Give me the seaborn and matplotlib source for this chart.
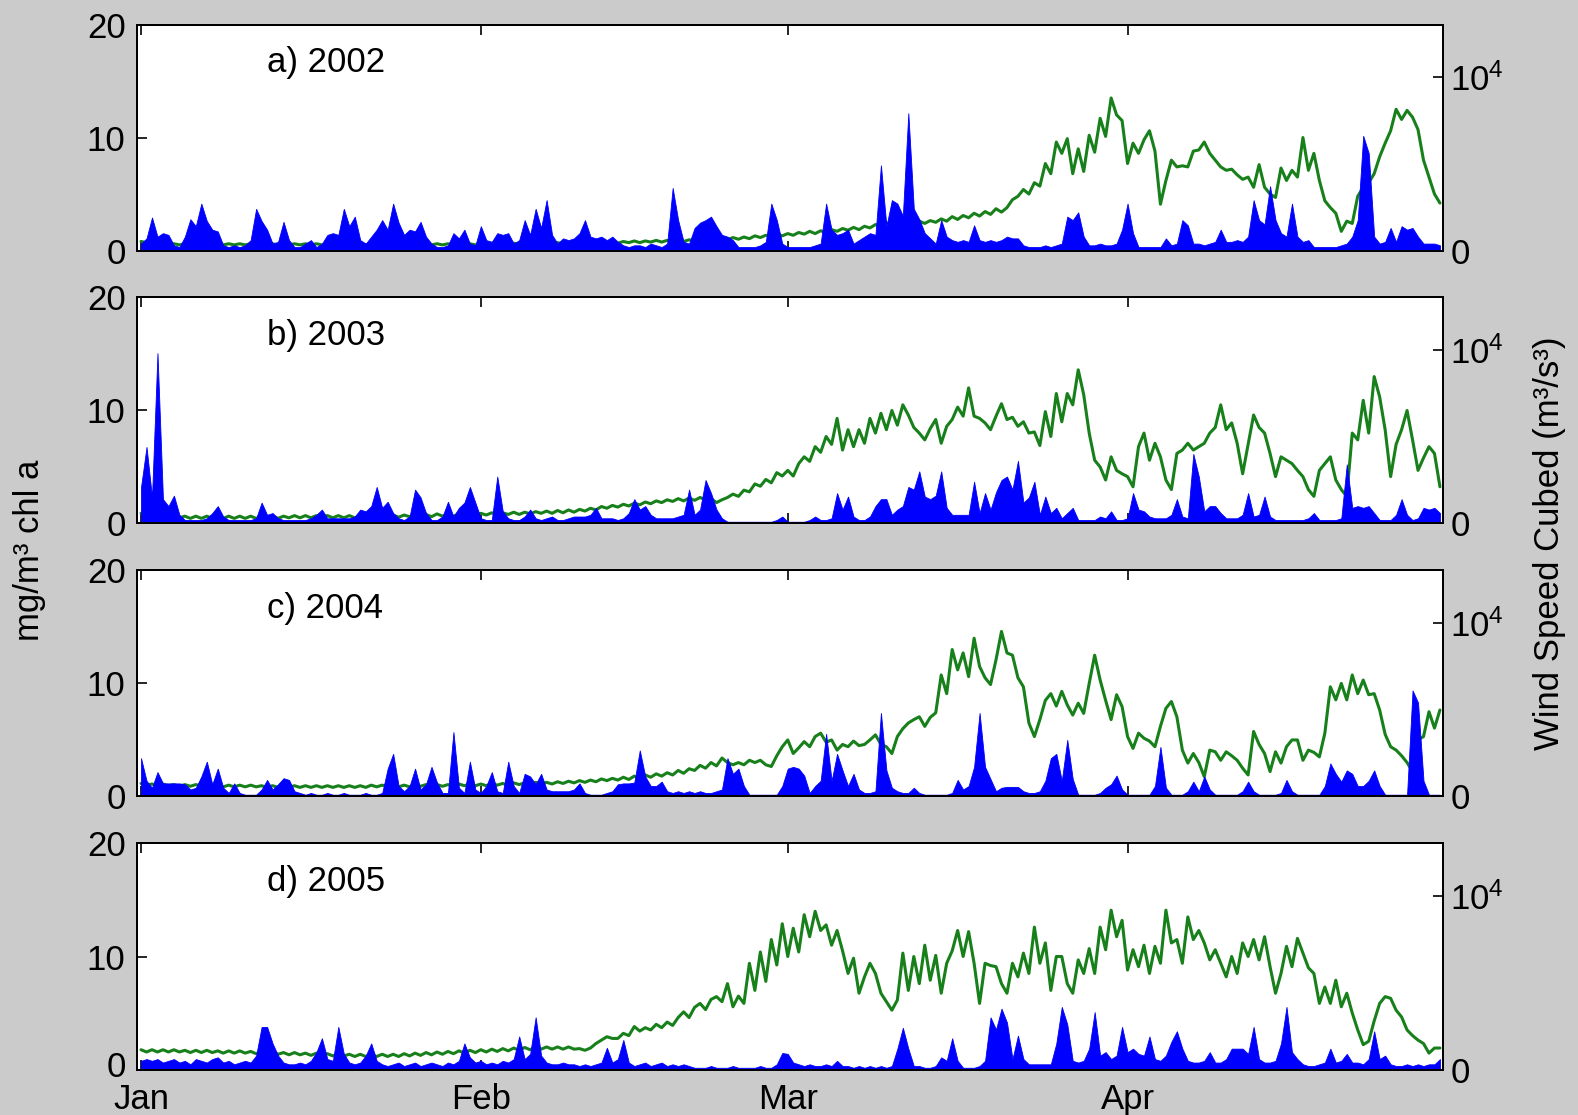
import matplotlib
matplotlib.use("Agg")
import matplotlib.pyplot as plt
import matplotlib.transforms as mtransforms
import numpy as np
import pandas as pd
import seaborn as sns

# half-day samples counted from 1 January
days = np.arange(0, 119, 0.5)
month_days = [0, 31, 59, 90]
month_labels = ["Jan", "Feb", "Mar", "Apr"]
panel_tags = ["a)", "b)", "c)", "d)"]
years = ["2002", "2003", "2004", "2005"]

# chlorophyll (mg/m^3)
chl_2002 = [
    0.8, 0.7, 0.7, 0.6, 0.65, 0.55, 0.6, 0.5, 0.6, 0.5, 0.6, 0.5, 0.6, 0.5, 0.6, 0.5, 0.6, 0.5, 0.6, 0.5,
    0.6, 0.5, 0.6, 0.5, 0.6, 0.5, 0.6, 0.5, 0.6, 0.5, 0.6, 0.5, 0.6, 0.5, 0.6, 0.5, 0.6, 0.5, 0.6, 0.5,
    0.6, 0.5, 0.6, 0.5, 0.6, 0.5, 0.6, 0.5, 0.6, 0.5, 0.6, 0.5, 0.6, 0.5, 0.6, 0.5, 0.6, 0.5, 0.6, 0.5,
    0.6, 0.5, 0.6, 0.5, 0.65, 0.55, 0.65, 0.55, 0.65, 0.55, 0.65, 0.55, 0.65, 0.55, 0.7, 0.6, 0.7, 0.6, 0.7, 0.6,
    0.7, 0.6, 0.75, 0.6, 0.75, 0.65, 0.75, 0.65, 0.8, 0.7, 0.85, 0.7, 0.85, 0.75, 0.9, 0.75, 0.9, 0.8, 0.95, 0.8,
    0.95, 0.85, 1.0, 0.85, 1.05, 0.9, 1.1, 0.95, 1.15, 1.0, 1.2, 1.05, 1.3, 1.15, 1.35, 1.2, 1.45, 1.3, 1.5, 1.35,
    1.6, 1.45, 1.7, 1.5, 1.75, 1.6, 1.85, 1.7, 1.95, 1.8, 2.05, 1.85, 2.15, 2.0, 2.3, 2.1, 2.45, 2.25, 2.6, 2.4,
    2.7, 2.45, 2.6, 2.4, 2.65, 2.5, 2.8, 2.6, 3.0, 2.75, 3.1, 2.9, 3.3, 3.05, 3.45, 3.2, 3.7, 3.4, 3.8, 4.5,
    4.8, 5.4, 5.0, 6.0, 5.7, 7.7, 6.8, 9.6, 8.6, 9.9, 6.8, 9.0, 7.0, 10.2, 8.7, 11.7, 10.1, 13.5, 12.0, 11.5,
    7.7, 9.5, 8.6, 9.8, 10.6, 8.8, 4.1, 6.2, 8.0, 7.4, 7.5, 7.4, 8.8, 8.9, 9.6, 8.6, 8.0, 7.4, 7.1, 7.2,
    6.7, 6.3, 6.5, 5.6, 7.6, 5.6, 5.0, 4.7, 7.3, 6.2, 7.1, 6.5, 10.0, 7.1, 8.6, 6.2, 4.4, 3.8, 3.3, 1.7,
    2.6, 2.4, 4.8, 5.6, 6.0, 6.8, 8.3, 9.5, 10.6, 12.5, 11.6, 12.4, 11.8, 10.7, 8.0, 6.5, 5.0, 4.2,
]
chl_2003 = [
    0.9, 0.8, 0.8, 0.7, 0.7, 0.6, 0.65, 0.5, 0.65, 0.45, 0.65, 0.45, 0.65, 0.45, 0.65, 0.45, 0.65, 0.45, 0.65, 0.45,
    0.65, 0.45, 0.65, 0.45, 0.65, 0.45, 0.65, 0.5, 0.7, 0.5, 0.7, 0.5, 0.7, 0.5, 0.7, 0.5, 0.7, 0.5, 0.7, 0.5,
    0.7, 0.55, 0.75, 0.55, 0.75, 0.55, 0.75, 0.55, 0.75, 0.6, 0.8, 0.6, 0.8, 0.6, 0.85, 0.65, 0.85, 0.65, 0.85, 0.7,
    0.9, 0.7, 0.9, 0.75, 0.95, 0.75, 0.95, 0.8, 1.0, 0.8, 1.0, 0.85, 1.05, 0.9, 1.1, 0.9, 1.15, 0.95, 1.2, 1.0,
    1.25, 1.1, 1.35, 1.2, 1.5, 1.35, 1.6, 1.45, 1.7, 1.55, 1.8, 1.65, 1.9, 1.75, 2.0, 1.85, 2.1, 1.95, 2.2, 2.0,
    2.25, 2.05, 2.3, 2.1, 2.2, 1.85, 2.1, 2.3, 2.6, 2.4, 2.95, 2.8, 3.5, 3.3, 3.9, 3.6, 4.5, 4.2, 4.7, 4.2,
    5.3, 5.9, 5.5, 6.8, 6.3, 7.7, 7.0, 9.3, 6.5, 8.3, 6.8, 8.3, 7.1, 9.3, 8.0, 9.75, 8.3, 10.0, 8.7, 10.5,
    9.6, 8.5, 8.0, 7.4, 8.4, 9.2, 7.1, 8.6, 9.2, 10.3, 9.5, 12.0, 9.5, 9.3, 8.9, 8.3, 9.5, 10.6, 9.2, 9.4,
    8.6, 9.0, 8.0, 8.1, 6.9, 9.9, 7.7, 11.5, 9.0, 11.5, 10.5, 13.6, 11.4, 8.0, 5.6, 5.0, 3.85, 5.9, 4.7, 4.4,
    4.15, 3.25, 6.8, 8.0, 5.6, 7.1, 5.9, 3.85, 3.0, 6.2, 6.5, 7.1, 6.5, 6.8, 7.1, 8.0, 8.5, 10.5, 8.3, 8.9,
    7.1, 4.4, 7.0, 9.6, 8.5, 8.0, 6.2, 4.15, 5.9, 5.6, 5.3, 4.7, 4.15, 3.0, 2.4, 4.7, 5.3, 5.9, 3.85, 3.0,
    2.4, 8.0, 7.4, 10.9, 8.0, 13.0, 11.2, 8.3, 4.15, 7.0, 8.3, 10.0, 7.4, 4.7, 5.8, 6.8, 6.2, 3.25,
]
chl_2004 = [
    1.15, 1.0, 1.1, 0.95, 1.1, 0.95, 1.05, 0.9, 1.05, 0.9, 1.05, 0.9, 1.0, 0.85, 1.0, 0.85, 1.0, 0.85, 1.0, 0.85,
    1.0, 0.85, 0.95, 0.8, 0.95, 0.8, 0.95, 0.8, 0.95, 0.8, 0.95, 0.8, 0.95, 0.8, 0.95, 0.8, 0.95, 0.8, 0.95, 0.8,
    0.95, 0.8, 1.0, 0.85, 1.0, 0.85, 1.0, 0.85, 1.0, 0.85, 1.05, 0.9, 1.05, 0.9, 1.05, 0.9, 1.05, 0.9, 1.1, 0.95,
    1.1, 0.95, 1.1, 0.95, 1.15, 1.0, 1.15, 1.0, 1.2, 1.05, 1.2, 1.05, 1.25, 1.1, 1.25, 1.1, 1.3, 1.15, 1.35, 1.2,
    1.4, 1.25, 1.45, 1.3, 1.55, 1.4, 1.6, 1.45, 1.7, 1.5, 1.8, 1.6, 1.9, 1.7, 2.0, 1.8, 2.1, 1.9, 2.3, 2.05,
    2.45, 2.3, 2.75, 2.5, 3.0, 2.7, 3.4, 3.0, 2.8, 3.0, 2.8, 3.2, 3.0, 3.2, 2.8, 2.65, 3.6, 4.4, 5.0, 3.8,
    4.3, 4.85, 4.4, 5.3, 5.6, 4.8, 5.0, 4.1, 4.6, 4.4, 4.9, 4.5, 4.6, 5.0, 5.45, 4.6, 4.4, 3.8, 5.3, 6.0,
    6.5, 6.8, 7.05, 6.2, 7.0, 7.4, 10.75, 9.1, 13.0, 11.2, 12.7, 10.6, 14.0, 11.5, 10.5, 9.9, 12.1, 14.6, 12.7, 12.5,
    10.5, 9.7, 6.5, 5.3, 6.8, 8.5, 9.1, 8.0, 9.3, 8.1, 7.2, 8.25, 7.35, 10.0, 12.5, 10.3, 8.5, 6.8, 9.0, 7.95,
    5.3, 4.25, 5.6, 5.15, 4.9, 4.4, 6.2, 7.8, 8.4, 7.05, 4.1, 2.95, 3.8, 3.0, 1.75, 4.1, 3.95, 3.2, 3.95, 3.6,
    3.2, 2.5, 1.9, 5.75, 4.6, 3.8, 2.2, 3.95, 2.95, 4.4, 5.0, 5.0, 3.2, 4.1, 3.9, 3.5, 5.6, 9.7, 8.55, 10.0,
    8.55, 10.75, 9.1, 10.3, 9.0, 9.1, 7.65, 5.5, 4.4, 4.1, 3.6, 3.0, 2.2, 5.0, 5.3, 7.5, 6.05, 7.65,
]
chl_2005 = [
    1.75, 1.55, 1.75, 1.55, 1.75, 1.55, 1.75, 1.55, 1.7, 1.5, 1.7, 1.5, 1.7, 1.5, 1.65, 1.45, 1.65, 1.45, 1.65, 1.45,
    1.6, 1.4, 1.6, 1.4, 1.55, 1.35, 1.5, 1.3, 1.5, 1.3, 1.45, 1.25, 1.45, 1.25, 1.4, 1.2, 1.4, 1.2, 1.35, 1.15,
    1.35, 1.15, 1.35, 1.15, 1.35, 1.15, 1.35, 1.15, 1.4, 1.2, 1.45, 1.25, 1.5, 1.3, 1.55, 1.35, 1.6, 1.4, 1.65, 1.45,
    1.7, 1.5, 1.75, 1.55, 1.8, 1.6, 1.85, 1.65, 1.9, 1.7, 1.95, 1.75, 2.0, 1.8, 2.0, 1.8, 2.0, 1.8, 2.0, 1.8,
    1.85, 1.7, 1.9, 2.3, 2.6, 2.9, 2.75, 2.75, 3.2, 3.0, 3.8, 3.4, 3.7, 3.5, 4.0, 3.7, 4.2, 3.9, 4.6, 5.1,
    4.6, 5.5, 5.85, 5.3, 6.2, 6.45, 6.0, 7.6, 5.55, 6.5, 5.85, 9.4, 7.0, 10.4, 7.8, 11.5, 9.25, 12.9, 10.0, 12.5,
    10.4, 13.7, 11.75, 14.0, 12.3, 12.8, 11.0, 12.3, 10.5, 8.5, 9.85, 6.75, 8.2, 9.4, 8.5, 6.75, 6.0, 5.25, 6.15, 10.3,
    7.0, 10.0, 7.6, 11.0, 7.9, 10.1, 6.75, 9.4, 10.5, 12.3, 10.0, 12.2, 9.4, 5.85, 9.4, 9.2, 9.1, 7.6, 6.75, 9.4,
    8.2, 10.3, 8.5, 12.6, 9.4, 11.2, 7.0, 10.0, 10.0, 7.6, 6.75, 9.7, 8.5, 10.7, 8.5, 12.6, 10.6, 14.1, 11.75, 13.2,
    8.8, 10.6, 9.1, 11.0, 8.5, 10.9, 9.4, 14.1, 11.2, 11.5, 9.4, 13.5, 11.5, 12.3, 11.2, 9.7, 10.6, 9.4, 8.2, 10.0,
    8.5, 11.2, 10.0, 11.5, 9.7, 11.75, 9.1, 6.75, 8.5, 10.9, 9.1, 11.6, 10.3, 9.0, 8.5, 5.85, 7.3, 5.85, 7.9, 5.55,
    6.75, 5.0, 3.5, 2.2, 2.5, 4.3, 5.85, 6.45, 6.3, 5.25, 4.65, 3.5, 3.0, 2.6, 2.3, 1.45, 1.9, 1.9,
]

# wind speed cubed, in 10^3 m^3/s^3
wind_2002 = [
    0.4, 0.7, 1.9, 0.8, 1.0, 0.9, 0.3, 0.2, 0.8, 1.8, 1.4, 2.7, 1.7, 1.2, 1.1, 0.3, 0.2, 0.3, 0.2, 0.3,
    0.6, 2.4, 1.7, 1.2, 0.4, 0.5, 1.65, 0.6, 0.2, 0.2, 0.4, 0.6, 0.2, 0.4, 0.9, 1.0, 0.9, 2.4, 1.4, 1.95,
    0.6, 0.4, 0.8, 1.2, 1.75, 1.2, 2.7, 1.6, 0.9, 1.2, 1.1, 1.65, 0.8, 0.4, 0.2, 0.2, 0.3, 1.0, 0.7, 1.2,
    0.4, 0.3, 1.4, 0.6, 0.5, 1.0, 0.9, 1.0, 0.4, 0.6, 1.75, 0.9, 2.4, 1.3, 2.9, 0.9, 0.4, 0.7, 0.6, 0.7,
    1.0, 1.75, 0.8, 0.7, 0.8, 0.6, 0.8, 0.5, 0.3, 0.2, 0.3, 0.3, 0.2, 0.4, 0.3, 0.2, 0.4, 3.6, 1.75, 0.5,
    0.4, 1.3, 1.6, 1.75, 1.95, 1.4, 0.9, 0.8, 0.6, 0.2, 0.2, 0.2, 0.2, 0.3, 0.5, 2.7, 1.75, 0.4, 0.2, 0.2,
    0.2, 0.2, 0.2, 0.3, 0.4, 2.7, 1.2, 0.9, 1.0, 1.2, 0.4, 0.6, 0.8, 1.0, 0.9, 4.9, 1.4, 2.9, 2.7, 2.0,
    7.9, 2.4, 1.8, 1.0, 0.7, 0.4, 1.75, 0.8, 0.6, 0.5, 0.6, 0.5, 1.45, 0.6, 0.5, 0.6, 0.5, 0.6, 0.8, 0.7,
    0.7, 0.3, 0.2, 0.2, 0.2, 0.3, 0.2, 0.3, 0.4, 1.95, 1.75, 2.2, 0.8, 0.3, 0.3, 0.4, 0.3, 0.3, 0.4, 1.2,
    2.7, 1.0, 0.2, 0.2, 0.2, 0.2, 0.2, 0.7, 0.3, 0.4, 1.75, 1.45, 0.4, 0.4, 0.3, 0.4, 0.5, 1.2, 0.5, 0.5,
    0.6, 0.5, 0.8, 2.9, 1.75, 1.5, 3.7, 1.75, 1.0, 0.8, 2.7, 0.8, 0.5, 0.6, 0.2, 0.2, 0.2, 0.2, 0.2, 0.3,
    0.4, 0.8, 1.75, 6.6, 5.6, 0.8, 0.4, 0.5, 1.3, 0.5, 1.4, 1.2, 1.3, 0.8, 0.4, 0.4, 0.4, 0.3,
]
wind_2003 = [
    2.1, 4.4, 1.5, 9.8, 1.4, 1.0, 1.6, 0.5, 0.2, 0.2, 0.2, 0.2, 0.3, 0.6, 1.0, 0.4, 0.2, 0.2, 0.2, 0.2,
    0.2, 0.3, 1.2, 0.5, 0.6, 0.3, 0.2, 0.2, 0.2, 0.2, 0.2, 0.3, 0.5, 0.8, 0.3, 0.3, 0.3, 0.3, 0.3, 0.4,
    0.8, 0.7, 1.0, 2.1, 0.9, 1.25, 0.6, 0.3, 0.2, 0.4, 1.95, 1.5, 0.6, 0.2, 0.2, 0.4, 1.25, 0.4, 0.9, 1.2,
    2.1, 1.2, 0.3, 0.2, 0.2, 2.7, 0.7, 0.3, 0.2, 0.2, 0.4, 0.8, 0.3, 0.2, 0.3, 0.4, 0.2, 0.2, 0.3, 0.4,
    0.4, 0.4, 0.5, 0.9, 0.3, 0.3, 0.3, 0.2, 0.3, 0.6, 1.4, 0.8, 1.0, 0.5, 0.3, 0.3, 0.3, 0.3, 0.4, 0.5,
    1.95, 0.5, 0.8, 2.5, 1.75, 0.8, 0.3, 0.1, 0.1, 0.1, 0.1, 0.1, 0.1, 0.1, 0.1, 0.1, 0.2, 0.4, 0.1, 0.1,
    0.1, 0.1, 0.2, 0.4, 0.2, 0.2, 0.3, 1.75, 0.8, 1.55, 0.4, 0.2, 0.2, 0.4, 1.0, 1.4, 1.4, 0.5, 0.8, 1.0,
    2.1, 1.95, 3.0, 1.55, 1.4, 1.6, 3.0, 0.9, 0.5, 0.5, 0.5, 0.5, 2.4, 0.6, 1.75, 0.8, 1.8, 2.5, 2.7, 1.95,
    3.6, 1.2, 1.5, 2.4, 0.5, 1.55, 0.6, 0.9, 0.3, 0.6, 0.9, 0.2, 0.2, 0.2, 0.2, 0.4, 0.3, 0.7, 0.2, 0.2,
    0.3, 1.75, 0.8, 0.7, 0.4, 0.3, 0.3, 0.3, 0.5, 1.4, 0.4, 0.3, 4.0, 2.7, 0.7, 1.0, 1.0, 0.6, 0.3, 0.3,
    0.3, 0.5, 1.75, 0.4, 0.5, 1.55, 0.4, 0.2, 0.2, 0.2, 0.2, 0.2, 0.2, 0.3, 0.6, 0.2, 0.2, 0.2, 0.2, 0.3,
    3.4, 0.9, 1.0, 0.9, 1.0, 0.6, 0.2, 0.2, 0.2, 0.5, 1.4, 0.5, 0.2, 0.3, 0.9, 0.8, 0.9, 0.6,
]
wind_2004 = [
    2.2, 0.9, 0.5, 1.4, 0.75, 0.75, 0.75, 0.75, 0.7, 0.4, 0.5, 1.15, 2.0, 0.7, 1.6, 0.5, 0.2, 0.75, 0.2, 0.1,
    0.1, 0.1, 0.4, 0.95, 0.4, 0.7, 1.05, 0.95, 0.3, 0.2, 0.1, 0.2, 0.1, 0.1, 0.2, 0.1, 0.1, 0.2, 0.1, 0.1,
    0.1, 0.2, 0.1, 0.1, 0.2, 1.6, 2.45, 0.6, 0.3, 0.6, 1.6, 0.4, 0.7, 1.7, 0.8, 0.2, 0.2, 3.7, 0.5, 0.2,
    2.0, 0.4, 0.2, 0.6, 1.4, 0.3, 0.2, 2.0, 0.6, 0.2, 1.3, 1.15, 0.7, 1.3, 0.4, 0.3, 0.3, 0.3, 0.3, 0.4,
    0.75, 0.2, 0.1, 0.1, 0.1, 0.2, 0.3, 0.7, 0.75, 0.75, 0.8, 2.65, 1.15, 0.6, 0.6, 0.85, 0.3, 0.2, 0.3, 0.2,
    0.3, 0.2, 0.3, 0.2, 0.2, 0.3, 0.4, 2.2, 1.3, 1.6, 0.6, 0.1, 0.1, 0.1, 0.1, 0.1, 0.1, 0.6, 1.6, 1.7,
    1.6, 1.2, 0.2, 0.6, 0.9, 3.6, 0.9, 2.45, 1.5, 0.6, 1.3, 0.4, 0.2, 0.2, 0.3, 4.8, 1.5, 0.5, 0.3, 0.2,
    0.2, 0.5, 0.2, 0.1, 0.1, 0.1, 0.1, 0.1, 0.2, 0.95, 0.4, 0.6, 1.7, 4.8, 1.7, 1.0, 0.3, 0.5, 0.55, 0.55,
    0.55, 0.3, 0.2, 0.2, 0.3, 0.9, 2.2, 2.45, 0.9, 3.25, 1.0, 0.1, 0.1, 0.1, 0.1, 0.2, 0.5, 0.7, 1.2, 0.4,
    0.1, 0.1, 0.1, 0.1, 0.1, 0.6, 2.85, 0.5, 0.1, 0.1, 0.1, 0.3, 0.85, 0.3, 1.15, 0.4, 0.1, 0.1, 0.1, 0.1,
    0.1, 0.3, 0.85, 0.3, 0.1, 0.1, 0.1, 0.1, 0.2, 0.95, 0.3, 0.1, 0.1, 0.1, 0.1, 0.1, 0.6, 1.9, 1.3, 0.85,
    1.5, 1.3, 0.6, 0.6, 0.9, 1.5, 0.6, 0.1, 0.1, 0.1, 0.1, 0.1, 6.1, 5.4, 0.9, 0.1, 0.1, 0.1,
]
wind_2005 = [
    0.5, 0.6, 0.5, 0.6, 0.4, 0.5, 0.6, 0.4, 0.5, 0.3, 0.6, 0.5, 0.4, 0.6, 0.7, 0.4, 0.5, 0.3, 0.4, 0.5,
    0.4, 0.8, 2.45, 2.45, 1.5, 0.8, 0.4, 0.3, 0.3, 0.4, 0.3, 0.5, 1.0, 1.8, 0.6, 0.5, 2.45, 0.9, 0.4, 0.3,
    0.4, 0.8, 1.5, 0.5, 0.3, 0.2, 0.3, 0.4, 0.2, 0.3, 0.4, 0.2, 0.3, 0.4, 0.3, 0.2, 0.4, 0.3, 0.5, 1.5,
    0.7, 0.4, 0.5, 0.3, 0.4, 0.3, 0.5, 0.4, 0.6, 1.9, 0.6, 0.9, 3.0, 0.8, 0.4, 0.3, 0.3, 0.4, 0.3, 0.3,
    0.2, 0.3, 0.2, 0.3, 0.4, 1.25, 0.4, 0.6, 1.7, 0.4, 0.2, 0.3, 0.4, 0.2, 0.3, 0.4, 0.2, 0.3, 0.2, 0.3,
    0.2, 0.1, 0.1, 0.1, 0.2, 0.1, 0.1, 0.1, 0.2, 0.1, 0.1, 0.1, 0.1, 0.2, 0.1, 0.1, 0.3, 0.95, 0.9, 0.4,
    0.3, 0.2, 0.3, 0.2, 0.2, 0.3, 0.2, 0.5, 0.2, 0.2, 0.1, 0.2, 0.1, 0.2, 0.1, 0.2, 0.1, 0.2, 1.2, 2.4,
    1.2, 0.2, 0.2, 0.1, 0.1, 0.2, 0.7, 0.5, 1.8, 0.5, 0.1, 0.1, 0.1, 0.2, 0.5, 3.0, 2.3, 3.5, 2.7, 0.6,
    1.95, 0.6, 0.3, 0.3, 0.3, 0.3, 0.3, 1.5, 3.6, 2.6, 0.5, 0.4, 0.5, 1.2, 3.3, 0.8, 1.0, 0.6, 0.8, 2.45,
    1.0, 1.2, 0.9, 0.8, 1.9, 0.6, 0.5, 0.8, 1.6, 2.2, 1.2, 0.5, 0.4, 0.4, 0.5, 1.0, 0.4, 0.4, 0.6, 1.2,
    1.2, 1.2, 0.9, 2.45, 0.6, 0.4, 0.4, 0.5, 1.5, 3.6, 1.0, 0.6, 0.3, 0.2, 0.2, 0.3, 0.4, 1.2, 0.4, 0.5,
    0.9, 0.4, 0.4, 0.3, 0.6, 2.2, 0.6, 0.8, 0.3, 0.2, 0.2, 0.3, 0.2, 0.3, 0.2, 0.3, 0.3, 0.6,
]

chl_series = [chl_2002, chl_2003, chl_2004, chl_2005]
wind_series = [wind_2002, wind_2003, wind_2004, wind_2005]

GREEN = "#17801a"
BLUE = "#0000ff"
FS = 25

sns.set_theme(style="white")
plt.rcParams["font.family"] = ["Liberation Sans", "DejaVu Sans"]
plt.rcParams["mathtext.fontset"] = "custom"
plt.rcParams["mathtext.rm"] = "Liberation Sans"
for key in ["text.color", "axes.labelcolor", "xtick.color", "ytick.color", "axes.edgecolor"]:
    plt.rcParams[key] = "black"

fig = plt.figure(figsize=(15.78, 11.15), dpi=100, facecolor="#cbcbcb")
bottoms = [0.7753, 0.5305, 0.2857, 0.0408]

for i in range(4):
    ax = fig.add_axes([0.0866, bottoms[i], 0.828, 0.2027])
    ax.set_facecolor("white")

    chl = chl_series[i]
    n = min(len(days), len(chl))
    df = pd.DataFrame({"day": days[:n], "chl": chl[:n]})
    sns.lineplot(data=df, x="day", y="chl", ax=ax, color=GREEN, linewidth=2.2,
                 estimator=None, sort=False)
    ax.set_xlabel("")
    ax.set_ylabel("")
    ax.set_xlim(-0.4, 118.8)
    ax.set_ylim(0, 20)
    ax.set_yticks([0, 10, 20])
    ax.set_xticks(month_days)
    ax.set_xticklabels(month_labels)
    ax.tick_params(axis="x", bottom=True, top=True, direction="in", length=7, width=1.2,
                   labelbottom=(i == 3), labelsize=FS, pad=10)
    ax.tick_params(axis="y", left=True, right=False, direction="in", length=7, width=1.2,
                   labelsize=FS, pad=8)
    if i == 3:
        # lift the bottom "0" a little so it clears the "Jan" label
        zero_label = ax.get_yticklabels()[0]
        lift = mtransforms.ScaledTranslation(0, 4 / 72, fig.dpi_scale_trans)
        zero_label.set_transform(zero_label.get_transform() + lift)
    ax.text(0.0997, 0.791, f"{panel_tags[i]} {years[i]}", transform=ax.transAxes,
            fontsize=FS, va="baseline", ha="left")

    ax2 = ax.twinx()
    wind = wind_series[i]
    m = min(len(days), len(wind))
    ax2.fill_between(days[:m], np.array(wind[:m]) * 1000.0, 0, color=BLUE,
                     edgecolor=BLUE, linewidth=0.6)
    ax2.set_ylim(0, 13000)
    ax2.set_yticks([0, 10000])
    ax2.set_yticklabels(["0", r"$\mathregular{10^4}$"])
    ax2.tick_params(axis="y", right=True, left=False, direction="in", length=7, width=1.2,
                    labelsize=FS, pad=5)
    ax2.grid(False)
    ax.grid(False)
    for a in (ax, ax2):
        for sp in a.spines.values():
            sp.set_color("black")
            sp.set_linewidth(1.4)

fig.text(0.019, 0.506, "mg/m³ chl a", rotation=90, va="center", ha="center", fontsize=FS)
fig.text(0.982, 0.513, "Wind Speed Cubed (m³/s³)", rotation=90, va="center", ha="center",
         fontsize=FS)

fig.savefig("out.png", dpi=100, facecolor=fig.get_facecolor())
